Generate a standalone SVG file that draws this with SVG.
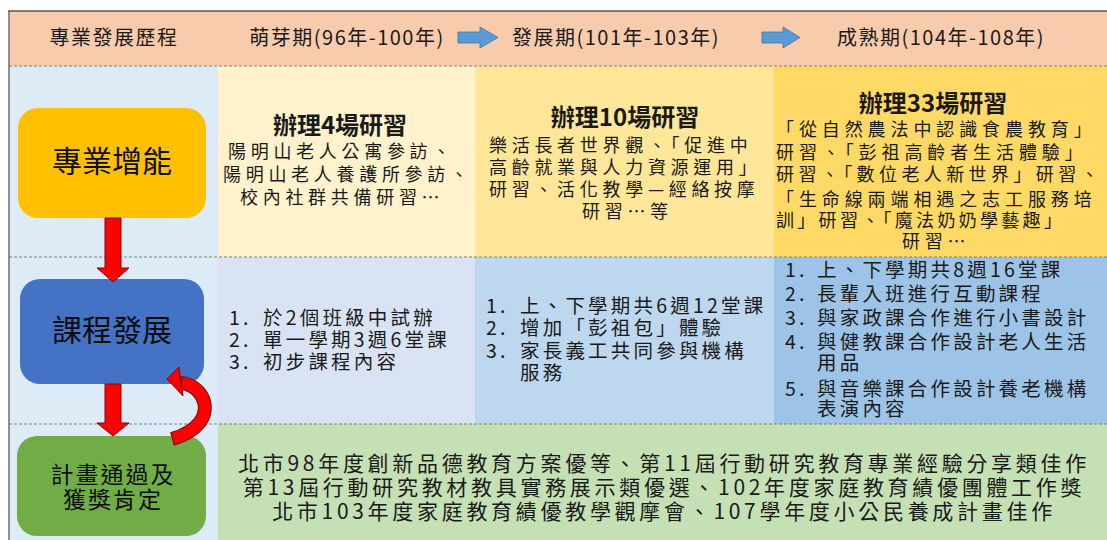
<svg xmlns="http://www.w3.org/2000/svg" width="1107" height="540" viewBox="0 0 1107 540">
<style>
text{font-family:'Noto Sans CJK TC','Noto Sans CJK SC',sans-serif;fill:#1a1a1a}
.hd{font-size:20px;letter-spacing:1.5px}
.ttl{font-size:24px;font-weight:bold;text-anchor:middle}
.b1{font-size:18px;letter-spacing:4.7px}
.b2{font-size:19.5px;letter-spacing:3.2px}
.b3{font-size:21px;letter-spacing:3.7px;text-anchor:middle}
.nd{font-size:30px;text-anchor:middle;fill:#0d0d0d}
.nd2{font-size:23px;text-anchor:middle;letter-spacing:2px;fill:#0d0d0d}
.sep{stroke:#7f7f7f;stroke-width:1;stroke-dasharray:3 2;fill:none}
.red{fill:#ff0000;stroke:#7a0a0a;stroke-width:1}
.blu{fill:#5b9bd5;stroke:#41719c;stroke-width:0.8}
</style>
<g id="background">
<rect x="9" y="11" width="1098" height="55" fill="#f8cbad"/>
<rect x="9" y="66" width="209" height="474" fill="#ddebf7"/>
<rect x="218" y="66" width="257" height="191" fill="#fff2cc"/>
<rect x="475" y="66" width="299" height="191" fill="#ffe699"/>
<rect x="774" y="66" width="333" height="191" fill="#ffd966"/>
<rect x="218" y="257" width="257" height="167" fill="#dae3f3"/>
<rect x="475" y="257" width="299" height="167" fill="#bdd7ee"/>
<rect x="774" y="257" width="333" height="167" fill="#9dc3e6"/>
<rect x="218" y="424" width="889" height="116" fill="#c5e0b4"/>
<line class="sep" x1="9" y1="66" x2="1107" y2="66"/>
<line class="sep" x1="9" y1="257" x2="1107" y2="257"/>
<line class="sep" x1="9" y1="424" x2="1107" y2="424"/>
<line x1="8" y1="11" x2="1107" y2="11" stroke="#595959" stroke-width="1.3"/>
<line x1="9" y1="11" x2="9" y2="540" stroke="#595959" stroke-width="1.3"/>
</g>
<g id="header">
<text class="hd" x="114" y="45" text-anchor="middle">專業發展歷程</text>
<text class="hd" x="347" y="45" text-anchor="middle">萌芽期(96年-100年)</text>
<text class="hd" x="616" y="45" text-anchor="middle">發展期(101年-103年)</text>
<text class="hd" x="941" y="45" text-anchor="middle">成熟期(104年-108年)</text>
<polygon class="blu" points="458,32 480,32 480,27 498,37.5 480,48 480,43 458,43"/>
<polygon class="blu" points="762,32 783,32 783,27 800,37.5 783,48 783,43 762,43"/>
</g>
<g id="node-zhuanye-zengneng">
<rect x="18" y="108" width="188" height="110" rx="20" fill="#ffc000"/>
<text class="nd" x="112" y="172">專業增能</text>
</g>
<g id="node-kecheng-fazhan">
<rect x="20" y="279" width="184" height="105" rx="20" fill="#4472c4"/>
<text class="nd" x="112" y="341">課程發展</text>
</g>
<g id="node-jihua-tongguo">
<rect x="17" y="436" width="189" height="100" rx="20" fill="#70ad47"/>
<text class="nd2" x="113" y="483">計畫通過及</text>
<text class="nd2" x="113" y="508">獲獎肯定</text>
</g>
<g id="connectors">
<polygon class="red" points="105,218 121,218 121,268 129,268 113,282 97,268 105,268"/>
<polygon class="red" points="105,384 121,384 121,423 129,423 113,436 97,423 105,423"/>
<path d="M181 383 C200 385 212 405 200 422 C193 431 183 436 172 439" fill="none" stroke="#7a0a0a" stroke-width="14"/>
<path d="M182 383 C200 385 212 405 200 422 C193 431 183 436 173 438.5" fill="none" stroke="#ff0000" stroke-width="12"/>
<polygon class="red" points="167,379 179,367 183,396"/>
</g>
<g id="cell-r1c1">
<text class="ttl" x="340" y="134">辦理4場研習</text>
<text class="b1" x="228" y="158">陽明山老人公寓參訪、</text>
<text class="b1" x="223" y="181">陽明山老人養護所參訪、</text>
<text class="b1" x="240" y="204">校內社群共備研習⋯</text>
</g>
<g id="cell-r1c2">
<text class="ttl" x="625" y="126">辦理10場研習</text>
<text class="b1" x="489" y="152">樂活長者世界觀、「促進中</text>
<text class="b1" x="489" y="174">高齡就業與人力資源運用」</text>
<text class="b1" x="489" y="196">研習、活化教學—經絡按摩</text>
<text class="b1" x="582" y="218">研習⋯等</text>
</g>
<g id="cell-r1c3">
<text class="ttl" x="933" y="112">辦理33場研習</text>
<text class="b1" x="776" y="136" style="letter-spacing:4.9px">「從自然農法中認識食農教育」</text>
<text class="b1" x="776" y="159" style="letter-spacing:4.9px">研習、「彭祖高齡者生活體驗」</text>
<text class="b1" x="776" y="181" style="letter-spacing:4.4px">研習、「數位老人新世界」研習、</text>
<text class="b1" x="776" y="206" style="letter-spacing:4.9px">「生命線兩端相遇之志工服務培</text>
<text class="b1" x="776" y="227" style="letter-spacing:3.3px">訓」研習、「魔法奶奶學藝趣」</text>
<text class="b1" x="902" y="248">研習⋯</text>
</g>
<g id="cell-r2c1">
<text class="b2" x="229" y="325">1.</text><text class="b2" x="263" y="325">於2個班級中試辦</text>
<text class="b2" x="229" y="347">2.</text><text class="b2" x="263" y="347">單一學期3週6堂課</text>
<text class="b2" x="229" y="369">3.</text><text class="b2" x="263" y="369">初步課程內容</text>
</g>
<g id="cell-r2c2">
<text class="b2" x="486" y="313">1.</text><text class="b2" x="520" y="313">上、下學期共6週12堂課</text>
<text class="b2" x="486" y="335">2.</text><text class="b2" x="520" y="335">增加「彭祖包」體驗</text>
<text class="b2" x="486" y="358">3.</text><text class="b2" x="520" y="358">家長義工共同參與機構</text>
<text class="b2" x="520" y="380">服務</text>
</g>
<g id="cell-r2c3">
<text class="b2" x="785" y="277">1.</text><text class="b2" x="817" y="277">上、下學期共8週16堂課</text>
<text class="b2" x="785" y="301">2.</text><text class="b2" x="817" y="301">長輩入班進行互動課程</text>
<text class="b2" x="785" y="325">3.</text><text class="b2" x="817" y="325">與家政課合作進行小書設計</text>
<text class="b2" x="785" y="349">4.</text><text class="b2" x="817" y="349">與健教課合作設計老人生活</text>
<text class="b2" x="817" y="370">用品</text>
<text class="b2" x="785" y="396">5.</text><text class="b2" x="817" y="396">與音樂課合作設計養老機構</text>
<text class="b2" x="817" y="416">表演內容</text>
</g>
<g id="cell-r3">
<text class="b3" x="664" y="471">北市98年度創新品德教育方案優等、第11屆行動研究教育專業經驗分享類佳作</text>
<text class="b3" x="664" y="495">第13屆行動研究教材教具實務展示類優選、102年度家庭教育績優團體工作獎</text>
<text class="b3" x="664" y="519">北市103年度家庭教育績優教學觀摩會、107學年度小公民養成計畫佳作</text>
</g>
</svg>
